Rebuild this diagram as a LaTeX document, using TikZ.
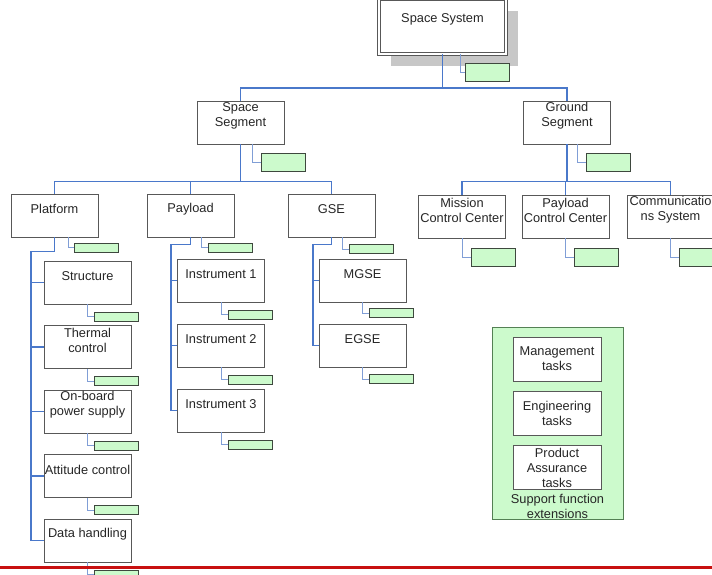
\documentclass[tikz,border=0pt]{standalone}
\usepackage{fontspec}
\setmainfont{Liberation Sans}
\usetikzlibrary{shadows}
\definecolor{wbsblue}{RGB}{74,120,202}
\definecolor{twigblue}{RGB}{128,158,214}
\definecolor{boxgray}{RGB}{88,88,88}
\definecolor{taggreen}{RGB}{204,250,204}
\definecolor{tagedge}{RGB}{62,72,62}
\definecolor{supedge}{RGB}{84,128,84}
\definecolor{redline}{RGB}{200,16,16}
\newcommand{\wbsfont}{\fontsize{12.8}{15}\selectfont}
\tikzset{
  boxtext/.style={align=center, font=\wbsfont, text=black!85, inner sep=0pt},
  box/.style={draw=boxgray, fill=white, line width=0.8pt, minimum width=87pt,
    minimum height=43pt, inner sep=0pt,
    label={[boxtext, anchor=center, yshift=-15.5pt]north:#1}},
  taskbox/.style={draw=boxgray, fill=white, line width=0.8pt, minimum width=88pt,
    minimum height=44pt, inner sep=0pt, boxtext},
  tag/.style={draw=tagedge, fill=taggreen, line width=0.8pt, minimum width=44pt,
    minimum height=9pt, inner sep=0pt},
  bigtag/.style={tag, minimum height=18pt},
  trunk/.style={draw=wbsblue, line width=1.8pt},
  twig/.style={draw=twigblue, line width=0.9pt},
}
\begin{document}
\begin{tikzpicture}[x=1pt,y=-1pt]
\useasboundingbox (0,0) rectangle (712,574);
% TOP
\node[draw=boxgray, fill=white, line width=0.7pt, double=white, double distance=2pt,
  minimum width=127pt, minimum height=55pt, inner sep=0pt,
  general shadow={fill=black!22, shadow xshift=12pt, shadow yshift=-12pt},
  label={[boxtext, anchor=center, yshift=-21pt]north:Space System}] (sys) at (442.5,26.5) {};
\node[bigtag] (sys-t) at (487.5,72) {};

% SEGMENTS
\node[box={Space\\Segment}] (sseg) at (240.5,122.5) {};
\node[bigtag] (sseg-t) at (283,162.5) {};
\node[box={Ground\\Segment}] (gseg) at (567,122.5) {};
\node[bigtag] (gseg-t) at (608,162.5) {};

% SPACE SEGMENT
\node[box=Platform] (platform) at (54.5,215.5) {};
\node[tag] (platform-t) at (96,247.5) {};
\node[box=Payload] (payload) at (190.5,215.5) {};
\node[tag] (payload-t) at (230,247.5) {};
\node[box=GSE] (gse) at (331.5,215.5) {};
\node[tag] (gse-t) at (371,249) {};

% GROUND SEGMENT
\node[box={Mission\\Control Center}] (mcc) at (462,216.5) {};
\node[bigtag] (mcc-t) at (493,257) {};
\node[box={Payload\\Control Center}] (pcc) at (565.5,216.5) {};
\node[bigtag] (pcc-t) at (596.5,257) {};
\node[box={Communicatio\\ns System}] (comm) at (670.5,216.5) {};
\node[bigtag] (comm-t) at (701.5,257) {};

% PLATFORM
\node[box=Structure] (structure) at (87.5,282.5) {};
\node[tag] (structure-t) at (116.5,316.5) {};
\node[box={Thermal\\control}] (thermal) at (87.5,347) {};
\node[tag] (thermal-t) at (116.5,381) {};
\node[box={On-board\\power supply}] (onboard) at (87.5,411.5) {};
\node[tag] (onboard-t) at (116.5,445.5) {};
\node[box=Attitude control] (attitude) at (87.5,476) {};
\node[tag] (attitude-t) at (116.5,510) {};
\node[box=Data handling] (datahandling) at (87.5,540.5) {};
\node[tag] (datahandling-t) at (116.5,574.5) {};

% PAYLOAD
\node[box=Instrument 1] (instr1) at (221,280.5) {};
\node[tag] (instr1-t) at (250,314.5) {};
\node[box=Instrument 2] (instr2) at (221,345.5) {};
\node[tag] (instr2-t) at (250,379.5) {};
\node[box=Instrument 3] (instr3) at (221,410.5) {};
\node[tag] (instr3-t) at (250,444.5) {};

% GSE
\node[box=MGSE] (mgse) at (362.5,280.5) {};
\node[tag] (mgse-t) at (391.5,313) {};
\node[box=EGSE] (egse) at (362.5,345.5) {};
\node[tag] (egse-t) at (391.5,379) {};

% SUPPORT FUNCTIONS
\node[draw=supedge, fill=taggreen, line width=0.8pt, minimum width=131pt,
  minimum height=192pt, inner sep=0pt,
  label={[boxtext, anchor=center, yshift=13pt]south:Support function\\extensions}] (support) at (557.5,423) {};
\node[taskbox] (mgmt) at (557,359) {Management\\tasks};
\node[taskbox] (eng) at (557,413.5) {Engineering\\tasks};
\node[taskbox] (pa) at (557,467.5) {Product\\Assurance\\tasks};

% CONNECTIONS
\draw[trunk] (sys.south) -- ++(0,34) -| (sseg.north);
\draw[trunk] (sys.south) -- ++(0,34) -| (gseg.north);

\draw[trunk] (sseg.south) -- ++(0,37) -| (platform.north);
\draw[trunk] (sseg.south) -- ++(0,37) -| (payload.north);
\draw[trunk] (sseg.south) -- ++(0,37) -| (gse.north);

\draw[trunk] (gseg.south) -- ++(0,37) -| (mcc.north);
\draw[trunk] (gseg.south) -- ++(0,37) -| (pcc.north);
\draw[trunk] (gseg.south) -- ++(0,37) -| (comm.north);

\draw[trunk] (platform.south) -- ++(0,14) -| ([xshift=-13pt]datahandling.west) -- (datahandling.west);
\draw[trunk] (structure.west) -- ++(-13,0);
\draw[trunk] (thermal.west) -- ++(-13,0);
\draw[trunk] (onboard.west) -- ++(-13,0);
\draw[trunk] (attitude.west) -- ++(-13,0);

\draw[trunk] (payload.south) -- ++(0,7) -| ([xshift=-6pt]instr3.west) -- (instr3.west);
\draw[trunk] (instr1.west) -- ++(-6,0);
\draw[trunk] (instr2.west) -- ++(-6,0);

\draw[trunk] (gse.south) -- ++(0,7) -| ([xshift=-6pt]egse.west) -- (egse.west);
\draw[trunk] (mgse.west) -- ++(-6,0);

% TAG LINKS
\draw[twig] ([xshift=17.5pt]sys.south) |- (sys-t.west);
\draw[twig] ([xshift=11.5pt]sseg.south) |- (sseg-t.west);
\draw[twig] ([xshift=10pt]gseg.south) |- (gseg-t.west);

\draw[twig] ([xshift=13.5pt]platform.south) |- (platform-t.west);
\draw[twig] ([xshift=10.5pt]payload.south) |- (payload-t.west);
\draw[twig] ([xshift=10.5pt]gse.south) |- (gse-t.west);

\draw[twig] (mcc.south) |- (mcc-t.west);
\draw[twig] (pcc.south) |- (pcc-t.west);
\draw[twig] (comm.south) |- (comm-t.west);

\draw[twig] (structure.south) |- (structure-t.west);
\draw[twig] (thermal.south) |- (thermal-t.west);
\draw[twig] (onboard.south) |- (onboard-t.west);
\draw[twig] (attitude.south) |- (attitude-t.west);
\draw[twig] (datahandling.south) |- (datahandling-t.west);

\draw[twig] (instr1.south) |- (instr1-t.west);
\draw[twig] (instr2.south) |- (instr2-t.west);
\draw[twig] (instr3.south) |- (instr3-t.west);

\draw[twig] (mgse.south) |- (mgse-t.west);
\draw[twig] (egse.south) |- (egse-t.west);

% FRAME
\draw[redline, line width=3.5pt] (0,567.5) -- (712,567.5);
\end{tikzpicture}
\end{document}
